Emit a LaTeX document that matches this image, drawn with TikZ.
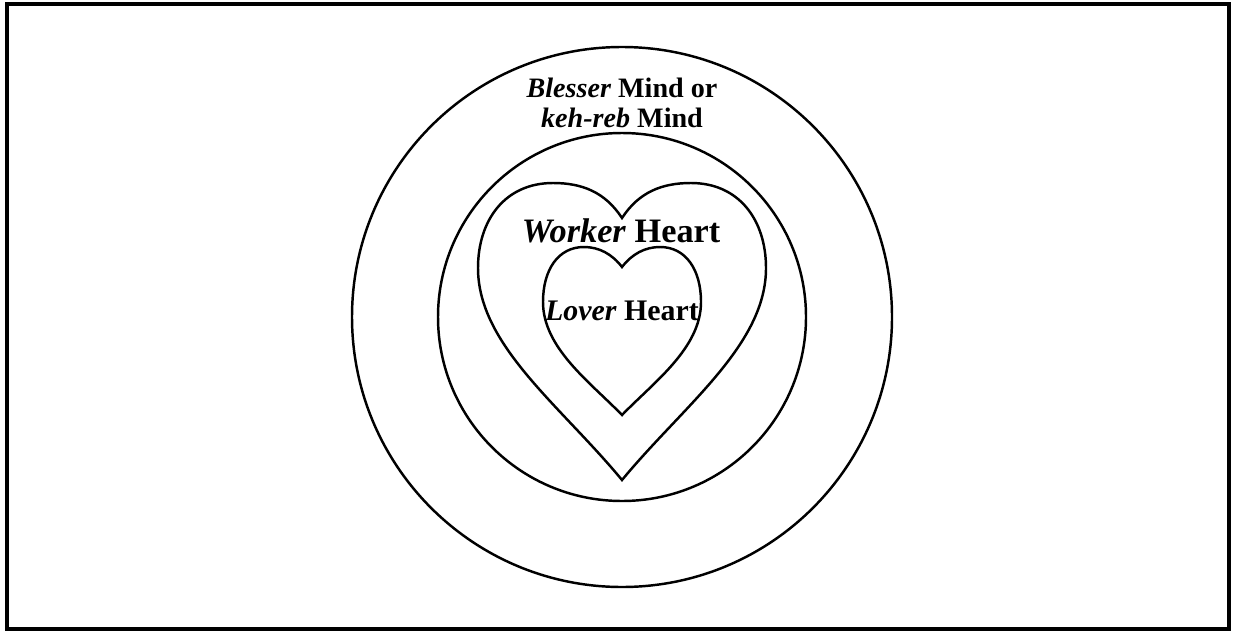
\documentclass[tikz,border=0pt]{standalone}
\usepackage{fontspec}
\setmainfont{Liberation Serif}
\usetikzlibrary{positioning}

\begin{document}
\begin{tikzpicture}[
    x=0.02cm, y=-0.02cm,
    ring/.style={line width=1.4pt, black},
    heartline/.style={line width=1.4pt, black, line join=miter},
    label/.style={font=\bfseries, text=black, align=center, inner sep=1pt}
]
\useasboundingbox (0,0) rectangle (1236,632);

% frame
\draw[line width=2pt] (7,4) rectangle (1229,629);

% mind circles
\node[ring, draw, circle, minimum size=540*0.02cm, inner sep=0pt] (outer) at (622,317) {};
\node[ring, draw, circle, minimum size=368*0.02cm, inner sep=0pt] (inner) at (622,317) {};

% worker heart
\draw[heartline] (622,218)
    .. controls (605,192) and (582,183) .. (553,183)
    .. controls (505,183) and (478,220) .. (478,268)
    .. controls (478,345) and (560,405) .. (622,480)
    .. controls (684,405) and (766,345) .. (766,268)
    .. controls (766,220) and (739,183) .. (691,183)
    .. controls (662,183) and (639,192) .. (622,218) -- cycle;

% lover heart
\draw[heartline] (622,267)
    .. controls (612,254) and (599,247) .. (584,247)
    .. controls (558,247) and (543,270) .. (543,302)
    .. controls (543,348) and (590,382) .. (622,415)
    .. controls (654,382) and (701,348) .. (701,302)
    .. controls (701,270) and (686,247) .. (660,247)
    .. controls (645,247) and (632,254) .. (622,267) -- cycle;

% labels
\node[label, font=\bfseries\fontsize{16}{17}\selectfont] (mind) at (622,103)
    {\textit{Blesser} Mind or\\\textit{keh-reb} Mind};
\node[label, font=\bfseries\fontsize{19.5}{20}\selectfont, anchor=base] (worker) at (621,242)
    {\textit{Worker} Heart};
\node[label, font=\bfseries\fontsize{17}{17}\selectfont] (lover) at (622,311)
    {\textit{Lover} Heart};

\end{tikzpicture}
\end{document}
